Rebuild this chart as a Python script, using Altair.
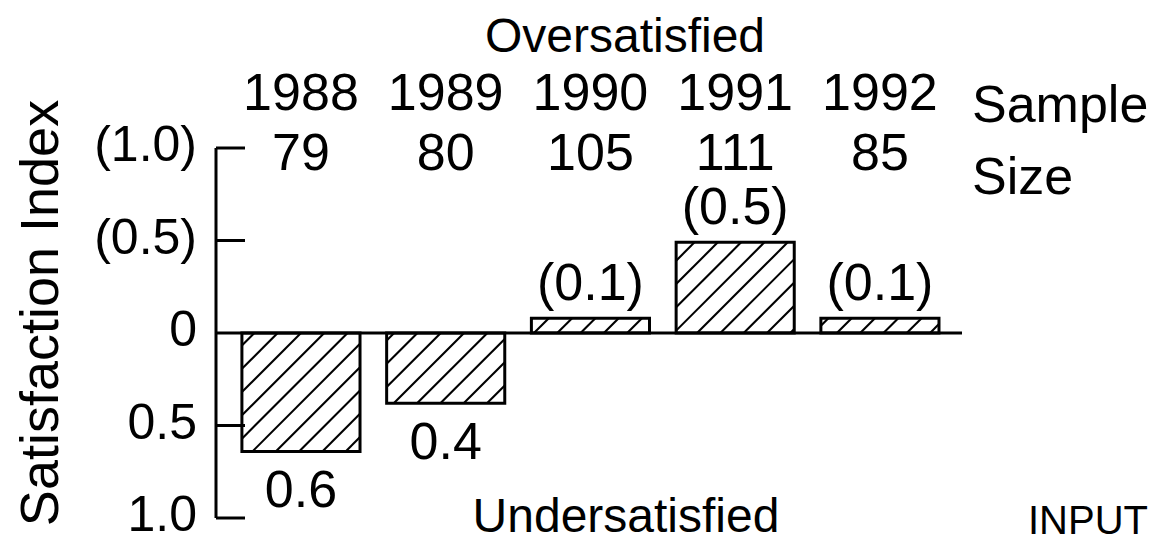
import math
import altair as alt
import pandas as pd

# ---- data ----
years = ["1988", "1989", "1990", "1991", "1992"]
sample_sizes = ["79", "80", "105", "111", "85"]
index_values = [-0.64, -0.38, 0.08, 0.49, 0.08]
value_labels = ["0.6", "0.4", "(0.1)", "(0.5)", "(0.1)"]
y_ticks = [-1.0, -0.5, 0.0, 0.5, 1.0]
y_tick_labels = ["1.0", "0.5", "0", "(0.5)", "(1.0)"]

FONT = "Liberation Sans"
X_MIN, X_MAX = -0.587, 4.567
W, H = 746, 370
HALF = 0.408
PX = W / (X_MAX - X_MIN)   # pixels per x unit
PY = H / 2.0               # pixels per y unit
SP = 23.3                  # hatch spacing (px, horizontal)

df = pd.DataFrame({
    "year": years,
    "n": sample_sizes,
    "value": index_values,
    "label": value_labels,
    "pos": list(range(len(years))),
})
df["x0"] = df["pos"] - HALF
df["x1"] = df["pos"] + HALF
df["zero"] = 0.0

# hatch segments derived from the bar values through the scale ratios
segs = []
for i, v in enumerate(index_values):
    x0, x1 = (i - HALF) * PX, (i + HALF) * PX
    y0, y1 = min(0.0, v) * PY, max(0.0, v) * PY
    kmin = math.ceil((x0 - y1) / SP)
    kmax = math.floor((x1 - y0) / SP)
    for k in range(kmin, kmax + 1):
        c = k * SP
        ys_ = max(y0, x0 - c)
        ye = min(y1, x1 - c)
        if ye - ys_ > 0.5:
            segs.append({"hx0": (ys_ + c) / PX, "hy0": ys_ / PY,
                         "hx1": (ye + c) / PX, "hy1": ye / PY})
hdf = pd.DataFrame(segs)

xs = alt.Scale(domain=[X_MIN, X_MAX], nice=False, zero=False)
ys = alt.Scale(domain=[-1, 1], nice=False, zero=False)

base = alt.Chart(df)

bars_fill = base.mark_bar(fill="white").encode(
    x=alt.X("x0:Q", scale=xs, axis=None), x2="x1",
    y=alt.Y("value:Q", scale=ys, axis=None), y2="zero",
)

hatch = alt.Chart(hdf).mark_rule(color="black", strokeWidth=2.1).encode(
    x=alt.X("hx0:Q", scale=xs, axis=None), x2="hx1",
    y=alt.Y("hy0:Q", scale=ys, axis=None), y2="hy1",
)

outline = base.mark_bar(fillOpacity=0, stroke="black", strokeWidth=3).encode(
    x=alt.X("x0:Q", scale=xs, axis=None), x2="x1",
    y=alt.Y("value:Q", scale=ys, axis=None), y2="zero",
)

zero_line = alt.Chart(pd.DataFrame({"z": [0.0]})).mark_rule(color="black", strokeWidth=3).encode(
    y=alt.Y("z:Q", scale=ys, axis=None), x=alt.value(0), x2=alt.value(W),
)

# y axis drawn by hand: domain line, inward ticks, labels, title
axis_df = pd.DataFrame({"lo": [min(y_ticks)], "hi": [max(y_ticks)]})
axis_line = alt.Chart(axis_df).mark_rule(color="black", strokeWidth=3).encode(
    x=alt.value(0), y=alt.Y("lo:Q", scale=ys, axis=None), y2="hi",
)

tick_df = pd.DataFrame({"t": y_ticks, "lab": y_tick_labels})
ticks = alt.Chart(tick_df).transform_filter("datum.t != 0").mark_rule(
    color="black", strokeWidth=3).encode(
    y=alt.Y("t:Q", scale=ys, axis=None), x=alt.value(0), x2=alt.value(29),
)
tick_labels = alt.Chart(tick_df).mark_text(
    font=FONT, fontSize=50, color="black", align="right", baseline="middle", dy=-2).encode(
    y=alt.Y("t:Q", scale=ys, axis=None), x=alt.value(-19), text="lab:N",
)

txt = dict(font=FONT, fontSize=52, color="black", baseline="alphabetic")

year_text = base.mark_text(**txt).encode(
    x=alt.X("pos:Q", scale=xs, axis=None), y=alt.value(-38), text="year:N")
n_text = base.mark_text(**txt).encode(
    x=alt.X("pos:Q", scale=xs, axis=None), y=alt.value(22), text="n:N")

pos_lab = base.transform_filter("datum.value > 0").mark_text(dy=-18, **txt).encode(
    x=alt.X("pos:Q", scale=xs, axis=None),
    y=alt.Y("value:Q", scale=ys, axis=None), text="label:N")
neg_lab = base.transform_filter("datum.value < 0").mark_text(dy=56, **txt).encode(
    x=alt.X("pos:Q", scale=xs, axis=None),
    y=alt.Y("value:Q", scale=ys, axis=None), text="label:N")

def note(s, x, y, size=50, align="center", **kw):
    return alt.Chart(pd.DataFrame({"t": [s]})).mark_text(
        font=FONT, fontSize=size, color="black", baseline="alphabetic", align=align, **kw
    ).encode(x=alt.value(x), y=alt.value(y), text="t:N")

title = note("Satisfaction Index", -158, 165, size=54, angle=270)
over = note("Oversatisfied", 409, -96, size=48)
under = note("Undersatisfied", 410, 384, size=48)
sample = note("Sample\nSize", 756, -26, size=52, align="left", lineBreak="\n", lineHeight=72)
inp = note("INPUT", 932, 386, size=40, align="right")

chart = alt.layer(
    bars_fill, hatch, outline, zero_line, axis_line, ticks, tick_labels, title,
    year_text, n_text, pos_lab, neg_lab, over, under, sample, inp,
).properties(
    width=W, height=H,
    autosize=alt.AutoSizeParams(type="none"),
    padding={"left": 208, "top": 140, "right": 190, "bottom": 25},
    background="white",
).configure_view(stroke=None)

chart.save("out.html", embed_options={"renderer": "svg", "actions": False})
